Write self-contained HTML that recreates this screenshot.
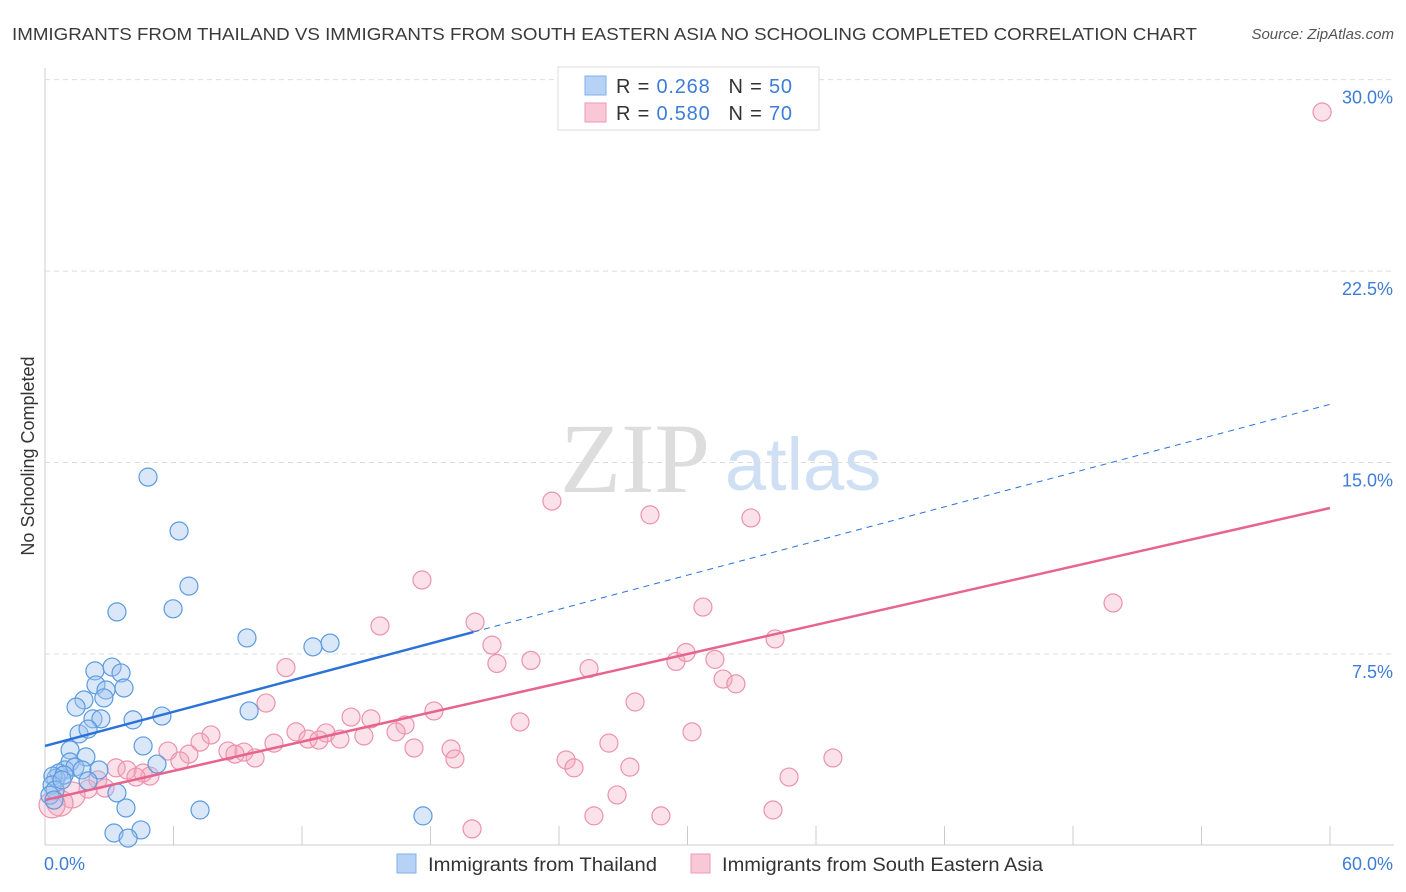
<!DOCTYPE html>
<html><head><meta charset="utf-8">
<style>
body{margin:0;background:#fff;font-family:"Liberation Sans",sans-serif;}
#wrap{position:relative;width:1406px;height:892px;overflow:hidden}
</style></head><body>
<div id="wrap">
<svg id="svg" width="1406" height="892" xmlns="http://www.w3.org/2000/svg">
<text x="12" y="40" font-size="17.5" fill="#3a3a3a" textLength="1185" lengthAdjust="spacingAndGlyphs">IMMIGRANTS FROM THAILAND VS IMMIGRANTS FROM SOUTH EASTERN ASIA NO SCHOOLING COMPLETED CORRELATION CHART</text>
<text x="1394" y="39" font-size="15" fill="#555" font-style="italic" text-anchor="end">Source: ZipAtlas.com</text>
<text x="34" y="456" font-size="18" fill="#333" text-anchor="middle" transform="rotate(-90 34 456)">No Schooling Completed</text>
<g><text x="635" y="492" font-family="Liberation Serif,serif" font-size="100" fill="#ddd" text-anchor="middle">ZIP</text><text x="803" y="490" font-size="74" fill="#cfe0f5" text-anchor="middle">atlas</text></g>
<g id="grid"></g><g id="marks"></g><g id="lines"></g>
<g>
<rect x="558" y="67" width="261" height="63" fill="#fff" stroke="#ddd"/>
<rect x="585" y="76" width="21" height="19" fill="#b7d2f5" stroke="#7fb0ea"/>
<rect x="585" y="103" width="21" height="19" fill="#f8c8d6" stroke="#ef9ab5"/>
<text x="616" y="93" font-size="20" fill="#333" textLength="176" lengthAdjust="spacing">R = <tspan fill="#3d7dd8">0.268</tspan><tspan dx="18">N = </tspan><tspan fill="#3d7dd8">50</tspan></text>
<text x="616" y="120" font-size="20" fill="#333" textLength="176" lengthAdjust="spacing">R = <tspan fill="#3d7dd8">0.580</tspan><tspan dx="18">N = </tspan><tspan fill="#3d7dd8">70</tspan></text>
</g>
<g>
<rect x="397" y="854" width="19" height="19" fill="#b7d2f5" stroke="#7fb0ea"/>
<text x="428" y="871" font-size="19" fill="#333" textLength="229" lengthAdjust="spacingAndGlyphs">Immigrants from Thailand</text>
<rect x="691" y="854" width="19" height="19" fill="#f8c8d6" stroke="#ef9ab5"/>
<text x="722" y="871" font-size="19" fill="#333" textLength="321" lengthAdjust="spacingAndGlyphs">Immigrants from South Eastern Asia</text>
</g>
</svg></div>
<script>
const yTicks=[7.5,15,22.5,30];
const yTickLabels=["7.5%","15.0%","22.5%","30.0%"];
const xTickLabels=["0.0%","60.0%"];
const blueX=[4.81,6.26,6.72,3.36,5.98,9.43,12.51,13.31,2.33,3.13,3.55,2.38,2.85,3.69,1.82,2.75,1.45,2.24,2.61,4.11,5.46,9.53,1.59,2.01,1.17,1.91,1.17,0.93,1.40,0.65,0.51,0.37,0.89,0.33,0.47,0.23,1.73,2.52,3.36,2.01,3.78,7.24,5.23,4.58,3.22,4.48,3.88,17.65,0.42,0.79];
const blueY=[14.43,12.32,10.16,9.15,9.27,8.13,7.78,7.93,6.84,6.99,6.76,6.29,6.09,6.17,5.70,5.78,5.42,4.96,4.96,4.92,5.07,5.27,4.37,4.56,3.74,3.47,3.27,2.96,3.07,2.84,2.64,2.72,2.76,2.37,2.17,1.97,2.96,2.96,2.06,2.53,1.47,1.39,3.19,3.90,0.49,0.61,0.29,1.16,1.78,2.57];
const pinkX=[59.63,23.67,28.25,32.96,17.60,49.87,30.72,20.08,15.64,20.87,34.09,11.25,21.10,22.69,25.40,29.46,29.93,31.28,31.66,32.26,27.55,10.32,18.16,22.18,14.29,15.22,16.81,7.75,11.72,13.12,12.28,12.79,13.77,14.89,16.39,10.69,7.24,8.54,9.29,8.87,9.81,5.74,6.72,6.30,17.23,18.96,19.14,26.33,30.21,24.33,24.70,27.31,36.79,34.74,26.71,25.63,28.76,33.99,19.94,3.32,3.83,4.58,4.90,4.25,2.47,2.80,2.01,1.26,0.70,0.33];
const pinkY=[28.73,13.49,12.95,12.83,10.40,9.50,9.34,8.75,8.60,7.85,8.09,6.97,7.13,7.25,6.93,7.21,7.56,7.29,6.52,6.33,5.62,5.58,5.27,4.84,5.03,4.96,4.72,4.33,4.45,4.41,4.17,4.13,4.17,4.29,4.45,4.01,4.05,3.70,3.66,3.58,3.43,3.70,3.58,3.31,3.82,3.78,3.39,4.01,4.45,3.35,3.04,3.07,3.43,2.68,1.98,1.16,1.16,1.39,0.65,3.04,2.96,2.84,2.72,2.68,2.57,2.25,2.21,1.98,1.66,1.59];
const blueTrend=[3.9,8.36,17.28]; // y at x=0, 20, 60
const pinkTrend=[1.78,13.22]; // y at x=0, 60
const X=v=>45+v*21.417, Y=v=>845.5-v*25.53;
const NS="http://www.w3.org/2000/svg";
function mk(t,a,p){const e=document.createElementNS(NS,t);for(const k in a)e.setAttribute(k,a[k]);p.appendChild(e);return e;}
const grid=document.getElementById('grid'),marks=document.getElementById('marks'),lines=document.getElementById('lines');
mk('line',{x1:45,y1:68,x2:45,y2:845,stroke:'#ccc'},grid);
mk('line',{x1:45,y1:845,x2:1394,y2:845,stroke:'#ccc'},grid);
for(let i=1;i<=10;i++){const l=mk('line',{x1:45+i*128.5,y1:826,x2:45+i*128.5,y2:845,stroke:'#ccc'},grid);

}
yTicks.forEach((t,i)=>{const g=mk('line',{x1:45,y1:Y(t),x2:1394,y2:Y(t),stroke:'#ddd','stroke-dasharray':'5,4'},grid);


const tx=mk('text',{x:1393,y:Y(t)+24,'font-size':18,fill:'#3d7dd8','text-anchor':'end'},grid);tx.textContent=yTickLabels[i];

});
const xl0=mk('text',{x:44,y:870,'font-size':18,fill:'#3d7dd8'},grid);xl0.textContent=xTickLabels[0];


const xl1=mk('text',{x:1393,y:870,'font-size':18,fill:'#3d7dd8','text-anchor':'end'},grid);xl1.textContent=xTickLabels[1];


pinkX.forEach((x,i)=>{const r=(x<1.5&&pinkY[i]<2.2)?13:9;const c=mk('circle',{cx:X(x),cy:Y(pinkY[i]),r:r,fill:'rgba(244,170,192,0.35)',stroke:'#ec92ad','stroke-width':1.2},marks);

});
blueX.forEach((x,i)=>{const c=mk('circle',{cx:X(x),cy:Y(blueY[i]),r:9,fill:'rgba(160,196,240,0.4)',stroke:'#5b9be0','stroke-width':1.2},marks);

});
const b1=mk('line',{x1:X(0),y1:Y(blueTrend[0]),x2:X(20),y2:Y(blueTrend[1]),stroke:'#2a72d8','stroke-width':2.5},lines);


const b2=mk('line',{x1:X(20),y1:Y(blueTrend[1]),x2:X(60),y2:Y(blueTrend[2]),stroke:'#2a72d8','stroke-width':1,'stroke-dasharray':'6,5'},lines);


const p1=mk('line',{x1:X(0),y1:Y(pinkTrend[0]),x2:X(60),y2:Y(pinkTrend[1]),stroke:'#e6648e','stroke-width':2.5},lines);


</script>
</body></html>
